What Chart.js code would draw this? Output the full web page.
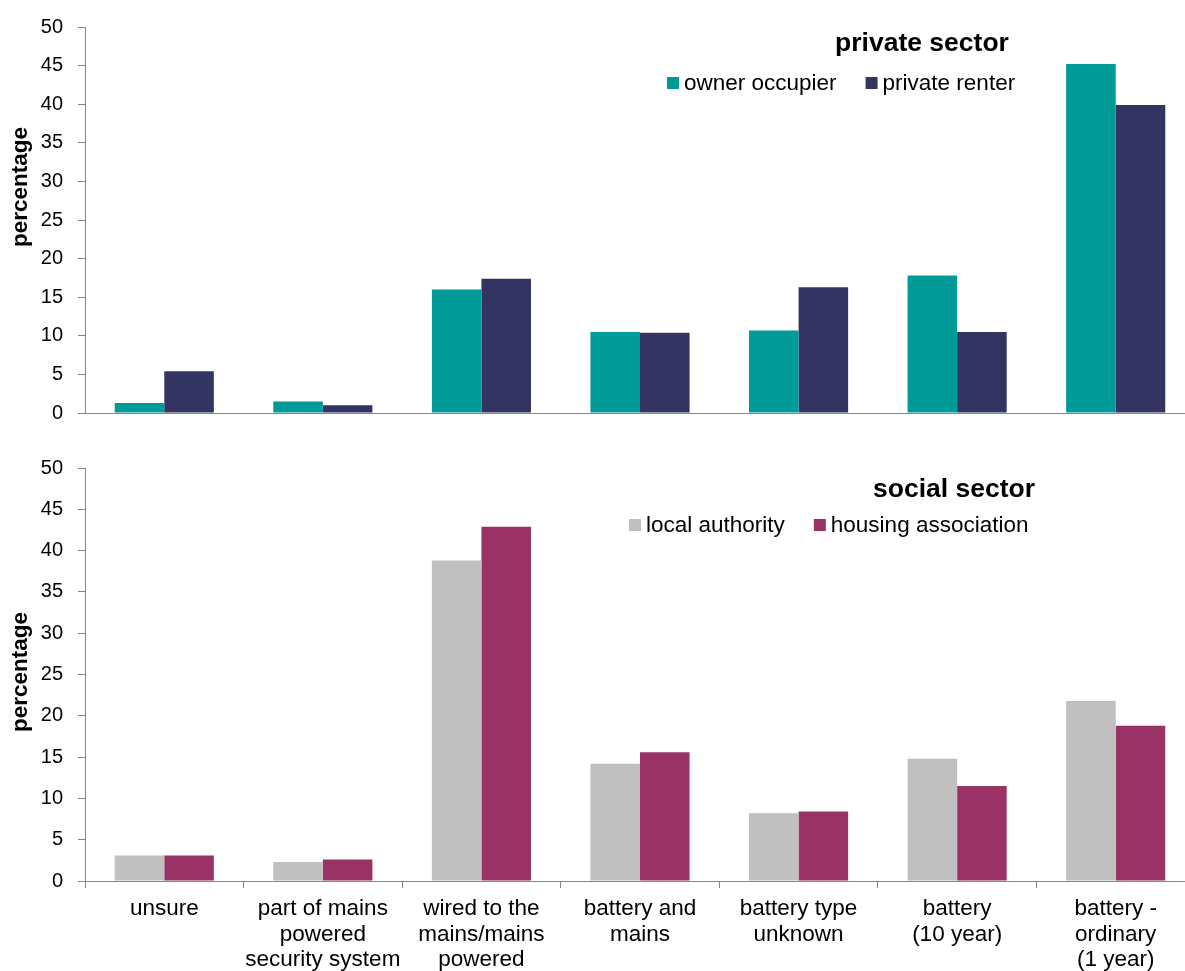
<!DOCTYPE html>
<html>
<head>
<meta charset="utf-8">
<script src="https://cdn.jsdelivr.net/npm/chart.js@4/dist/chart.umd.min.js"></script>
<style>
  html, body { margin: 0; padding: 0; background: #fff; overflow: hidden; }
  .panel { position: absolute; left: 0; }
</style>
</head>
<body>
<div class="panel" style="top:0"><canvas id="privateChart" width="1200" height="440"></canvas></div>
<div class="panel" style="top:440px"><canvas id="socialChart" width="1200" height="531"></canvas></div>
<script>
// smoke alarm types, percentage of dwellings
const categories = [
  ['unsure'],
  ['part of mains', 'powered', 'security system'],
  ['wired to the', 'mains/mains', 'powered'],
  ['battery and', 'mains'],
  ['battery type', 'unknown'],
  ['battery', '(10 year)'],
  ['battery -', 'ordinary', '(1 year)']
];
const yTicks = [0, 5, 10, 15, 20, 25, 30, 35, 40, 45, 50];

const ownerOccupier = [1.3, 1.5, 16.0, 10.5, 10.7, 17.8, 45.2];
const privateRenter = [5.4, 1.0, 17.4, 10.4, 16.3, 10.5, 39.9];
const localAuthority = [3.1, 2.3, 38.8, 14.2, 8.2, 14.8, 21.8];
const housingAssociation = [3.1, 2.6, 42.9, 15.6, 8.4, 11.5, 18.8];

const FONT = '"Liberation Sans", Arial, sans-serif';
const AXIS_GREY = '#868686';

// axis title, sector title and key drawn by hand
const sectorKey = {
  id: 'sectorKey',
  afterDraw(chart, args, opts) {
    const ctx = chart.ctx;
    ctx.save();
    ctx.textBaseline = 'middle';
    ctx.fillStyle = '#000';

    // rotated y axis title
    ctx.save();
    ctx.translate(21, opts.axisTitleY);
    ctx.rotate(-Math.PI / 2);
    ctx.textAlign = 'center';
    ctx.font = 'bold 22.5px ' + FONT;
    ctx.fillText('percentage', 0, 0);
    ctx.restore();

    ctx.font = 'bold 26.5px ' + FONT;
    ctx.textAlign = 'center';
    ctx.fillText(opts.title, opts.titleX, opts.titleY);

    ctx.font = '22.5px ' + FONT;
    ctx.textAlign = 'left';
    let x = opts.keyX;
    chart.data.datasets.forEach(function(ds) {
      ctx.fillStyle = ds.backgroundColor;
      ctx.fillRect(x, opts.keyY - 6, 12, 12);
      ctx.fillStyle = '#000';
      ctx.fillText(ds.label, x + 17, opts.keyY + 1);
      x += 17 + ctx.measureText(ds.label).width + 29;
    });
    ctx.restore();
  }
};

function yAxis() {
  return {
    min: 0,
    max: 50,
    afterFit: function(scale) { scale.width = 85; },
    afterBuildTicks: function(scale) { scale.ticks = yTicks.map(v => ({ value: v })); },
    ticks: { color: '#000', font: { family: FONT, size: 20 }, padding: 15 },
    grid: { drawOnChartArea: false, drawTicks: true, tickLength: 7, color: AXIS_GREY },
    border: { color: AXIS_GREY, width: 1 }
  };
}

function createSectorChart(canvasId, series, colours, names, xAxis, padding, key) {
  new Chart(document.getElementById(canvasId), {
    type: 'bar',
    data: {
      labels: categories,
      datasets: series.map(function(values, i) {
        return {
          label: names[i],
          data: values,
          backgroundColor: colours[i],
          borderWidth: 0,
          categoryPercentage: 0.625,
          barPercentage: 1
        };
      })
    },
    options: {
      responsive: false,
      animation: false,
      layout: { padding: padding },
      plugins: {
        legend: { display: false },
        tooltip: { enabled: false },
        sectorKey: key
      },
      scales: { x: xAxis, y: yAxis() }
    },
    plugins: [sectorKey]
  });
}

createSectorChart('privateChart',
  [ownerOccupier, privateRenter],
  ['#009a98', '#343462'],
  ['owner occupier', 'private renter'],
  {
    afterFit: function(scale) { scale.height = 0; },
    ticks: { display: false },
    grid: { display: false },
    border: { color: AXIS_GREY, width: 1 }
  },
  { top: 26, right: 5, bottom: 26, left: 0 },
  { title: 'private sector', titleX: 922, titleY: 44, keyX: 667, keyY: 83, axisTitleY: 187 }
);

createSectorChart('socialChart',
  [localAuthority, housingAssociation],
  ['#c0c0c0', '#993366'],
  ['local authority', 'housing association'],
  {
    afterFit: function(scale) { scale.height = 90; },
    ticks: {
      color: '#000',
      maxRotation: 0,
      autoSkip: false,
      padding: 8,
      font: { family: FONT, size: 22.5, lineHeight: 1.14 }
    },
    grid: { drawOnChartArea: false, drawTicks: true, tickLength: 7, offset: true, color: AXIS_GREY },
    border: { color: AXIS_GREY, width: 1 }
  },
  { top: 28, right: 5, bottom: 0, left: 0 },
  { title: 'social sector', titleX: 954, titleY: 50, keyX: 629, keyY: 85, axisTitleY: 232 }
);
</script>
</body>
</html>
